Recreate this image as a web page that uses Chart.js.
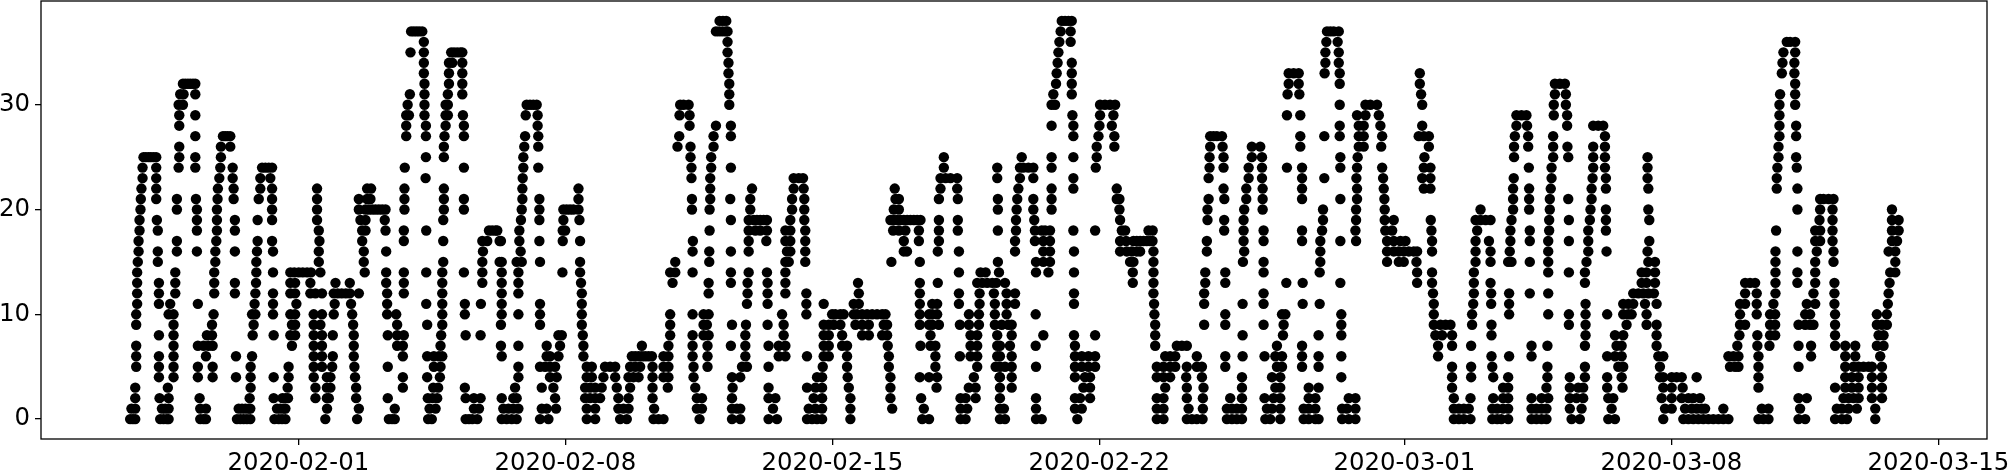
<!DOCTYPE html>
<html>
<head>
<meta charset="utf-8">
<style>
body { margin: 0; background: #fff; }
canvas { display: block; }
</style>
<script src="https://cdn.jsdelivr.net/npm/chart.js@4"></script>
</head>
<body>
<canvas id="chart" width="2013" height="476"></canvas>
<script>
// hours since 2020-01-26 00:00 at which each count was seen
const counts = [0,1,2,3,4,5,6,7,8,9,10,11,12,13,14,15,16,17,18,19,20,21,22,23,24,25,26,27,28,29,30,31,32,33,34,35,36,37,38];
const hoursAtCount = [
  [38.2,39.9,41.4,57.1,59.2,61.3,62.4,82.3,84.4,85.9,105.4,107.5,109.6,111.7,113.8,129,131.7,133.8,135.9,161,181,201,203,204.7,225.7,228,249.3,251.4,253.5,256.6,272,275.1,278.3,281.4,296.1,301.4,325.5,330.8,346.5,350.7,367.5,370.7,373.8,396.5,416.9,422.1,439.9,445.2,464.1,467.3,470.4,473.6,491.4,536.6,540.9,560.7,563.9,585.5,588.7,608.2,611.8,634.2,684.2,688.4,703.1,706.3,709.4,713,728.3,731.5,734.6,737.8,752.5,755.6,761.9,776.6,779.8,784,786,800.8,805,809.2,871.1,874.3,877.4,881.6,895.3,898.4,901,905.3,920,923.1,926.3,929.4,945.2,950.4,968.3,972.5,1002.9,1015.5,1018.7,1021.8,1025,1028.1,1031.3,1034.4,1037.6,1040.7,1043.9,1062.8,1065.9,1069.1,1088,1092.2,1111,1115.3,1118.5,1136.3],
  [39,41.4,58.2,60.3,62.4,82.3,85.9,106.5,108.6,110.7,112.8,113.8,130.6,132.7,134.8,135.9,162.1,182.1,204.7,226.6,230.4,254.5,257.7,273,276.2,279.3,282.5,297.2,300.3,306.2,325.5,330.8,345.4,348.6,351.8,367.9,394.8,398,416.9,420,422.1,442.7,465.2,469.4,473.6,491.4,517.7,537.6,560.7,564.9,585.5,588,608.2,632.7,637,684.2,688.4,704.2,713.2,728.3,731.5,734.6,737.8,753.5,756.7,761.9,776.6,779.8,784,800.8,803.9,809.2,871.1,874.3,877.4,880.5,895.3,898.4,902.1,905.3,920,923.1,926.3,929.4,944.1,951.5,970.4,1004,1008.2,1016.6,1020.8,1024,1027.1,1029.2,1040.7,1064.9,1069.1,1089,1112.1,1115.3,1119.5,1124.7,1136.3],
  [41.4,56.7,62.4,81.9,113.4,128.5,134,136,137.5,154.8,162,163.2,180.4,200.3,225.5,228.5,231.4,249.3,254.5,258.7,272,279.3,281.4,305.6,324.5,327.6,330.8,333.9,345.4,351.8,366.9,394.8,398,416.9,439.9,444.2,468.3,473.6,491.4,516.6,535.9,560.7,563.9,570.2,585.5,608.2,632.7,635.9,642.2,684.2,688.4,703.1,713.2,730.4,737.8,752,757.7,761.9,779.8,784,805,809.2,871.1,881.6,895.9,902.1,905.3,920,926.3,930.5,944.1,948.3,952.5,968.3,971.4,1001.9,1008.2,1014.5,1018.7,1021.8,1026,1088,1093.2,1116.3,1119.5,1122.6,1125.8,1134.2,1140.5],
  [41.4,61.9,114,137.3,154.8,162,164.2,180.4,209.8,228.9,232,248.8,280.4,297.2,304.5,324.5,327.6,330.8,334.9,344.4,352.8,366.9,376.5,393.8,417.3,439.9,464.1,469.4,473.6,490.4,516.6,545.6,565.9,570.2,585.5,592.9,638,642.2,689.5,703.1,713.6,737.8,758.8,761.9,779.8,786,870,902.1,905.3,929.4,944.1,949.4,952.5,967.6,977.3,1002.9,1008.2,1015.1,1062.8,1111,1117.4,1121.6,1125.8,1134.2,1140.5],
  [56.3,65.5,80.8,90.1,104.8,114,128.5,137.9,153.7,162,164.2,179.7,209.8,225.1,233.1,282.5,302.4,306.6,325.5,328.7,336,343.4,351.8,354.9,358.1,366.9,373.8,376.9,392.7,416.9,422.1,470.4,473.6,489.7,516.6,535.1,540.9,546,569.1,585.3,585.5,592.9,632.7,639,642.2,684.2,688.4,692.6,702.7,712.6,737.8,756.7,761.9,800.3,870,882,895.9,905.3,930,944.1,953.6,967.6,976.7,1000.8,1002.9,1008.2,1011.3,1014.5,1023.9,1062.8,1117.4,1121.6,1125.8,1134.2,1140.5],
  [42,56.3,65.5,80.8,90.1,114,137.9,153.7,158.9,165.3,179.3,200.3,229.3,233.5,282.5,296.1,299.3,302.4,305.6,325.5,328.7,337,340.2,343.4,352.8,356,359.1,366.9,373.8,376.9,392.7,401.5,423.2,426.3,439.9,474,489.3,515.6,544.9,571.2,582.8,585.5,588.7,592.9,608.2,632.7,637,641.2,645.4,684.2,688.4,692.6,695.8,703.1,709.4,712.6,727.3,759.8,763,775.6,786,870,882,895.3,930,953.6,974.6,977.7,1000.8,1044.9,1048.1,1050.2,1062.8,1088,1117.4,1122.6,1125.8,1128.9,1132.1,1134.2,1140.5],
  [42,56.3,65.5,85.9,104.8,114.9,153.7,158.9,165.7,178.9,209.8,225.1,229.3,232.5,234.6,272,300.3,302.4,307.7,323.4,353.9,356,358.1,360.2,362.3,364.4,366.5,373.8,376.9,392.1,401.5,425.3,446.3,450.5,464.1,474.6,477.8,489.3,515.6,544.9,560.3,567,571.2,583.8,585.5,592.9,632.7,637,641.2,645.4,689.5,692.6,695.8,709.4,727.3,738.2,752,758.8,763,775.6,786,800.3,861.2,894.8,905.9,920,967.6,972.5,976.7,999.8,1002.9,1043.9,1047,1050.2,1062.8,1095.9,1117.4,1123.7,1139.4],
  [42,65.5,80.8,84.4,87.5,90.1,140,153.7,158.9,178.9,206.2,209.8,233.5,271.5,282.5,300.3,308.7,323.4,360.2,376.9,392.1,401.5,416.2,425.3,439.9,446.3,450.5,474.6,477.8,486.2,489.3,514.9,535.5,541.8,544.9,567,571.2,583.8,585.5,591.8,608,632.7,683.2,696.8,700,703.1,759.8,775.6,861.2,870,882,920,930,953.6,973.5,976.7,998.7,1049.5,1062.1,1069.7,1088,1095.9,1111,1117.4,1123.7,1137.3,1141.5],
  [56.3,65.5,86.5,89.7,115.3,128.5,139,142,153.7,158.9,165.7,178.9,200.3,206.2,210.4,233.9,249.3,258.7,307.7,309.8,323,378,392.1,399,402.2,425.3,449.4,474.6,477.8,486.2,498.8,503,511.4,514.5,541.8,567,571.2,583.8,592.9,612.8,632.1,645.4,683.2,738.2,763.6,786,800.3,859.5,863.7,870,894.8,954,972.5,977.7,998.7,1050.8,1062.1,1070.1,1073.3,1111,1138.4,1141.5],
  [42,65.5,89.7,115.9,140,142,153.7,157.9,178.5,206.2,225.1,234.6,271.5,296.1,322.4,378,399,401.1,416.9,425.7,439.3,449.4,474.6,477.8,480.9,485.1,494.6,498.8,503,512.4,514.5,535.1,540.9,542.9,547.1,560.3,566,572.3,582.3,586.6,590.8,592.9,683.2,714,727.3,751.4,764,800.3,858.5,862.7,865.9,869,882.6,894.8,943.5,954,979.8,992.4,998.7,1051.2,1054.4,1070.1,1073.3,1088,1092.2,1095.3,1097.4,1111,1137.3,1140.5,1143.6],
  [42,62.4,65.5,90.7,114.9,117,128.1,139,142,153.7,158.9,166.3,177.9,199.9,205.6,234.6,248.8,272,282.5,296.1,322.4,378,392.1,399,402.2,448.4,463.7,479.9,481.9,485.1,487.2,493.5,495.6,498.8,501.9,505.1,508.2,511.4,513.5,535.1,540.9,542.9,546,566,572.3,582.3,589.7,608,682.7,727.3,763,765.1,800.3,858.5,882.6,905.9,930.5,943.5,954,967.6,977.7,980.9,983,992.4,1051.2,1061.7,1070.1,1073.3,1092.2,1095.3,1111,1137.3,1143.6],
  [42.6,56.3,63.4,80.8,116.5,128.1,142.8,166.9,177.2,199.9,224.5,234.6,248.8,258.9,272,296.1,322.4,426.3,439.3,463.7,474.6,493.5,496.7,535.1,542.9,546,559.7,572.7,582.3,589.7,595,632.1,682.5,714,738.2,751.4,776,786.7,858.5,883.3,894.6,905.9,954,977.7,980.9,984,991.4,998.7,1051.2,1054.4,1061.7,1072.2,1093.2,1098.5,1110.6,1144.2],
  [42.6,56.3,66.6,91.1,104.1,117,128.1,139,142,151.6,154.8,158.9,166.3,168.8,171.3,173.9,176.4,182.1,199.9,210.4,234.6,272,282.5,322.4,402.2,426.7,439.3,450.5,463.7,496.7,535.1,559.7,572.7,581.7,589.7,595,632.1,682.1,714,751.4,858,883.7,894.6,905.9,918.9,930.5,984,987.2,990.3,993.5,997,1054.4,1061.7,1073.5,1097.4,1110.6,1144.7],
  [42.6,56.3,66.6,91.1,104.1,117.4,139,142,151.6,167.4,176.4,199.3,210.4,234.6,259.8,272,282.5,321.9,379.5,402.2,416.2,426.7,439.3,450.5,496.2,535.1,546.4,571.2,574.4,577.5,580.7,583.2,588.7,669.1,682.1,714.7,727.3,765.7,776,799.7,848,857.4,883.7,894.2,953.6,989.3,992.4,997.7,1054.4,1057.5,1060.7,1073.5,1087.3,1098.5,1110.6,1145.3],
  [42.6,66.6,91.1,117.6,128.1,139,141.5,144.3,146.8,149.5,152,157.9,185.8,199.3,210.4,224.5,234.6,248.2,259.8,272,282.5,310.2,321.3,378,381.2,392.1,416.2,427.4,438.9,450.5,559.7,573.3,576.5,584.9,608.2,616,632.1,669.1,682.1,714.7,727.3,751.4,786.7,848,857.4,883.7,930.5,943.5,953.6,989.3,992.4,997.7,1073.5,1087.3,1098.5,1145.7,1148.9],
  [43,55.6,91.8,117.6,156.9,185.2,235.2,259.8,270.7,272,281.4,284.6,296.1,321.3,381.2,402.6,450.5,452.6,463,517.2,535.1,584.2,608.2,612.8,617,667.4,669.5,682.1,738.4,751.4,787.1,829.1,836.5,839.6,847.6,884.8,894.2,905.3,907.4,918.9,930.5,954.6,993.5,997.7,1073.5,1098.5,1110,1148.9],
  [43.5,55.6,67.6,80.2,91.8,104.1,118,128.1,156.9,185.2,199.3,260.2,283.9,392.1,402.6,416.2,427.4,451.5,453.6,463,525,527,546.4,559.7,595,612.8,617,632.1,661.1,665.3,668.5,671.6,673.7,682.1,715.7,739.2,787.1,829.1,833.3,836.5,839.6,842.8,845.9,848,857.4,884.8,894.2,906.3,930.5,955.7,967.2,993,1073.5,1087.3,1099.5,1110,1144.7,1148.9],
  [43.5,67.6,92.4,118.4,127.5,157.3,184.2,210.4,235.2,259.8,262.9,270.7,271.5,283.1,295.7,310.4,321.3,392.3,427.4,438.5,450.5,453.6,463,525,534.5,547.1,595,607.5,612.8,617,661.1,664.9,669.5,671.6,673.7,675.8,677.9,680,681.5,715.7,738.8,751.4,775.6,787.1,799.7,809.6,829.1,833.3,837.5,840.7,857.4,884.8,893.2,906.7,918.9,930.5,943.5,955.7,994.1,1098.5,1101.6,1109.4,1146.8,1150],
  [44.1,55.6,80.2,92.8,104.1,156.9,184.2,186.3,198.9,210.4,224.5,264,266,268.1,269.2,283.1,310.4,311.9,402.8,427.4,431.6,434.7,438.9,450.5,453.6,463,518.3,521.9,526,534.5,547.1,559,584.2,595.6,607.5,611.8,613.9,617,631.7,645.4,662.2,664.3,679,681.6,726.6,738.8,751.4,775.6,788.2,809.2,828,832.3,857,885.8,906.7,918.9,931.1,955.7,966.8,1073.9,1098.5,1101.6,1109.4,1146.8,1151],
  [44.1,55,80.2,92.8,104.1,118.4,127.5,155.8,183.1,186.3,198.4,235.2,284.1,295.7,310.8,320.9,416.2,427.4,430.5,432.6,434.7,436.8,438.9,453.6,462.4,516.6,518.7,520.8,522.9,525,527.1,529.2,531.3,533.4,535.5,547.1,559,595.6,607.1,661.1,716.1,726.6,738.8,788.8,809.6,827.6,833.3,856.6,884.8,887.9,891.1,894.2,907.4,931.1,943.5,956.7,966.8,994.1,1101.2,1109.4,1146.8,1151],
  [44.7,67.6,80.2,92.8,127.5,155.8,182.1,186.3,188.4,190.5,192.6,194.7,196.8,198.9,210.8,235.6,248.2,284.6,295.7,310.8,312.9,315,317.1,320.3,391.7,402.8,428.4,454.7,462.4,518.7,521.9,584.2,596,606.5,618,660.7,716.1,739.2,750.8,788.8,809.6,827.6,887.9,908.4,918.5,931.5,957.1,966.8,993.5,1087.3,1101.6,1109.4,1146.8],
  [44.9,54.6,67.6,79.6,93.2,103.3,119.1,127.5,155.8,182.1,187.3,189.4,210.8,235.6,248.2,285,295.7,320.3,391.7,403.2,415.8,428.4,454.7,462.4,519.8,521.9,547.1,559,584.2,596.4,606.5,618,659,660.7,716.8,726.7,740.5,750.8,775.6,799.7,810.2,827.4,908.4,918.5,931.5,943.1,957.8,1101.6,1103.7,1106.9,1110],
  [45.3,54.6,93.4,103.3,120.1,127.5,155.8,187.3,189.8,210.8,235.6,285,320.3,403.2,429.5,455.7,462,519.3,548.1,558.6,597.1,618,631.7,659,726.2,740.5,750.8,775.6,810.2,827,852.2,856.4,908.4,918.5,932.1,957.8,966.8,993.5,1074.3,1087.3],
  [46,54.6,94.3,102.7,120.1,126.4,224.1,285.2,391.4,403.2,455.7,458.9,461.6,548.1,551.3,554.4,558.6,583.8,598.1,606.5,631.7,716.8,742,750.4,775.6,789.6,809.8,826.6,851.2,856.4,908.8,932.6,958.4,966.8,993,1074.3],
  [46,54.6,68.7,79.2,94.9,102.7,121.2,123.3,125.4,127.5,211,248.2,285.6,295,391.4,403.8,416.2,550.2,583.8,598.1,600.2,603.4,606.5,618,645.8,717.4,726.2,742,750.4,766.1,775.6,799.7,810.2,826,852.2,856.4,918.3,932.6,958.8,966.2,993,1074.7,1086.9],
  [46.6,48.1,49.8,51.2,52.9,54.6,69.1,79.2,95.3,224.3,235.6,285.6,390.8,403.8,550.2,599.2,618,631.7,646.4,717.4,726.2,744,750.4,799.7,810.6,852.6,909,933.6,943.1,958.8,966.2,993,1075.4,1086.5],
  [69.1,95.3,101.2,235.6,286.2,295,382.6,390.8,405.3,646.4,657.5,717.8,725.6,744,749.3,774.5,811.3,814.4,825.4,855.4,909,917.9,933.6,942.6,958.8,966.2,1075.4],
  [79.2,96.6,98,99.5,101.2,211.9,224.3,236,248.2,286.7,295,383.7,405.3,416.2,631.7,647.5,657.5,717.8,719.9,722,725.2,774.5,789.6,799.3,811.3,814.4,826,849,852.2,855.4,909.5,917.9,933.6,966.2,1076,1086.5],
  [69.1,211.9,224.3,236.7,248.2,294.6,390.2,406.8,416.2,618,631.7,648.1,655.9,799.3,811.3,814.4,824.9,851.2,910.5,917.2,942.4,958.8,962,965.1,1076,1086.5],
  [69.1,79.2,211.9,213.6,223.4,236.7,238.1,247.6,287.1,294.6,383.9,390.2,631.1,648.5,656.9,766.1,774.5,810.2,815.5,823.9,910.5,913.7,916.8,934,942.4,1076],
  [68.7,71.4,212.8,223.4,236.7,238.1,287.7,289.8,291.9,294,384.3,386.4,389.6,415.2,618,620.2,648.5,651.6,654.8,658,799.3,815.5,818.6,822.8,851.2,934,941.6,1076,1085.9],
  [69.7,71.8,79.2,214.2,223.4,238.1,247.2,415.2,619.1,630.7,766.5,773.9,850.5,934.7,941.6,1076.4,1085.9],
  [71.4,72.9,74.5,76,77.7,79.2,223.4,238.8,247.2,415.2,620.8,630.7,767.2,773.5,799.3,849.7,934.7,937.8,941,1085.9],
  [223,238.8,247.2,414.7,621.2,630.7,767.2,770.3,773.5,789.8,799.3,849.7,1077.5,1085.4],
  [223,238.8,240.9,247.2,414.7,621.8,630.7,790.3,798.7,1077.9,1085.4],
  [214.6,223,240.2,242,244,246,247.2,414.1,622.3,790.3,798.7,1078.5,1085.9],
  [223,414.1,622.9,630,790.9,798,1080.6,1082.7,1085.9],
  [215,216.7,218.4,220.1,222,406.8,408.9,411,413.1,414.1,623.7,630,791.3,793.4,795.5,798.7],
  [409.1,411.2,413.3,624.4,626.5,628.6,630.7]
];
const tickHours = [144, 312, 480, 648, 840, 1008, 1176];
const tickLabels = ['2020-02-01', '2020-02-08', '2020-02-15', '2020-02-22', '2020-03-01', '2020-03-08', '2020-03-15'];
const countTicks = [0, 10, 20, 30];

const points = [];
counts.forEach(function (count, i) {
    hoursAtCount[i].forEach(function (hour) {
        points.push({ x: hour, y: count });
    });
});

const boxPlugin = {
    id: 'box',
    afterDraw: function (chart) {
        const a = chart.chartArea;
        const c = chart.ctx;
        c.save();
        c.strokeStyle = '#000';
        c.lineWidth = 1.3;
        c.strokeRect(a.left, a.top, a.right - a.left, a.bottom - a.top);
        c.restore();
    }
};

new Chart(document.getElementById('chart'), {
    type: 'scatter',
    data: {
        datasets: [{
            data: points,
            backgroundColor: '#000',
            borderWidth: 0,
            pointRadius: 5.2,
            pointHoverRadius: 5.2
        }]
    },
    options: {
        responsive: false,
        animation: false,
        layout: { autoPadding: false, padding: { top: 1, right: 26, bottom: 0, left: 0 } },
        plugins: { legend: { display: false }, tooltip: { enabled: false } },
        scales: {
            x: {
                type: 'linear',
                min: -17.9,
                max: 1206.6,
                afterBuildTicks: function (axis) {
                    axis.ticks = tickHours.map(function (v) { return { value: v }; });
                },
                afterFit: function (axis) {
                    axis.height = 37;
                    axis.paddingLeft = 0;
                    axis.paddingRight = 0;
                },
                grid: { drawOnChartArea: false, tickLength: 6, color: '#000', lineWidth: 1.3 },
                border: { display: false },
                ticks: {
                    color: '#000',
                    maxRotation: 0,
                    autoSkip: false,
                    padding: 4,
                    font: { family: 'DejaVu Sans', size: 24.4 },
                    callback: function (value) { return tickLabels[tickHours.indexOf(value)]; }
                }
            },
            y: {
                min: -1.9,
                max: 39.9,
                afterBuildTicks: function (axis) {
                    axis.ticks = countTicks.map(function (v) { return { value: v }; });
                },
                afterFit: function (axis) {
                    axis.width = 41;
                    axis.paddingTop = 0;
                    axis.paddingBottom = 0;
                },
                grid: { drawOnChartArea: false, tickLength: 6, color: '#000', lineWidth: 1.3 },
                border: { display: false },
                ticks: {
                    color: '#000',
                    padding: 5,
                    font: { family: 'DejaVu Sans', size: 24.4 }
                }
            }
        }
    },
    plugins: [boxPlugin]
});
</script>
</body>
</html>
